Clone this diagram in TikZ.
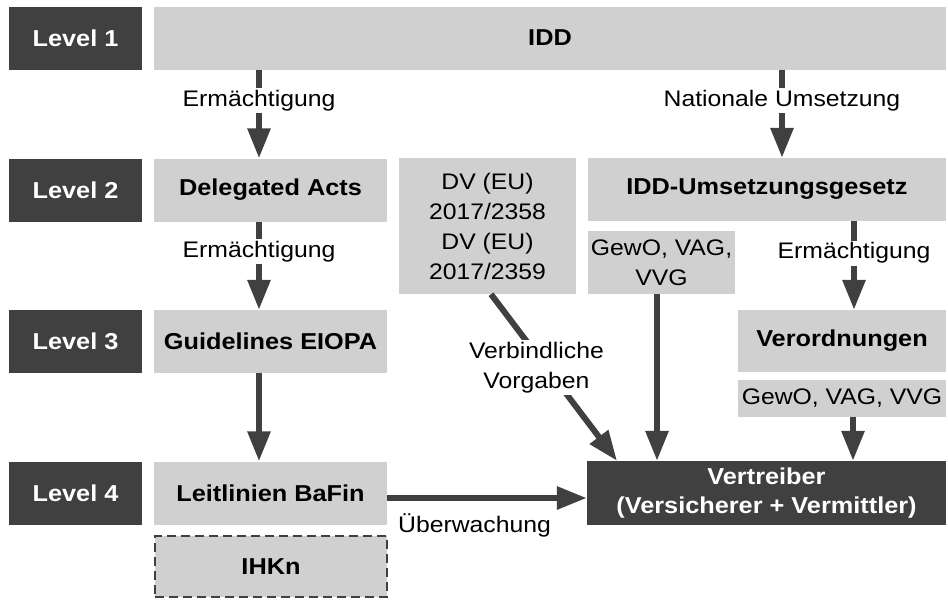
\documentclass[tikz,border=0pt]{standalone}
\usepackage{fontspec}
\setmainfont[FakeStretch=1.1]{Liberation Sans}
\usetikzlibrary{arrows.meta}
\definecolor{dk}{HTML}{404040}
\definecolor{lt}{HTML}{D0D0D0}
\begin{document}
\begin{tikzpicture}[x=1pt,y=-1pt,
  font=\fontsize{22.5}{30}\selectfont,
  lvl/.style={fill=dk, text=white, font=\fontsize{23}{29}\selectfont\bfseries, minimum width=133pt, minimum height=63pt, inner sep=0pt, align=center},
  box/.style={fill=lt, minimum height=63pt, inner sep=0pt, align=center},
  bbox/.style={box, font=\fontsize{23}{30}\selectfont\bfseries},
  arr/.style={draw=dk, line width=6pt, -{Triangle[width=22pt,length=30pt]}},
  lab/.style={fill=white, inner sep=2pt, align=center}]
\useasboundingbox (0,0) rectangle (948,600);

\node[lvl] (L1) at (75.5,38) {Level 1};
\node[lvl] (L2) at (75.5,190) {Level 2};
\node[lvl] (L3) at (75.5,341.5) {Level 3};
\node[lvl] (L4) at (75.5,493) {Level 4};

\node[bbox, minimum width=792pt] (IDD) at (550,38) {IDD};
\node[bbox, minimum width=233pt] (DEL) at (270.5,190) {Delegated Acts};
\node[bbox, minimum width=233pt] (GUI) at (270.5,341.5) {Guidelines EIOPA};
\node[bbox, minimum width=233pt] (LEI) at (270.5,493) {Leitlinien BaFin};
\node[bbox, minimum width=232pt, minimum height=61pt, draw=dk, line width=2pt, dash pattern=on 9pt off 5pt] (IHK) at (271,566.5) {IHKn};
\node[box, minimum width=177pt, minimum height=136pt] (DV) at (487.5,226) {DV (EU)\\2017/2358\\DV (EU)\\2017/2359};
\node[bbox, minimum width=358pt] (IDDU) at (767,189.5) {IDD-Umsetzungsgesetz};
\node[box, minimum width=147pt] (GW1) at (661.5,262.5) {GewO, VAG,\\VVG};
\node[bbox, minimum width=208pt, minimum height=62pt] (VO) at (842,341) {Verordnungen};
\node[box, minimum width=208pt, minimum height=37pt] (GW2) at (842,398.5) {GewO, VAG, VVG};
\node[lvl, minimum width=359pt, minimum height=64pt] (VT) at (766.5,493) {Vertreiber\\(Versicherer + Vermittler)};

\coordinate (xa) at (259,0);
\coordinate (xb) at (782,0);
\coordinate (xc) at (854,0);
\coordinate (xd) at (491,0);
\coordinate (xe) at (617,0);
\coordinate (xf) at (657,0);
\coordinate (xg) at (853,0);
\coordinate (ya) at (0,498);

\draw[arr] (IDD.south -| xa) -- node[lab,pos=0.35]{Ermächtigung} (DEL.north -| xa);
\draw[arr] (DEL.south -| xa) -- node[lab,pos=0.34]{Ermächtigung} (GUI.north -| xa);
\draw[arr] (GUI.south -| xa) -- (LEI.north -| xa);
\draw[arr] (IDD.south -| xb) -- node[lab,pos=0.35]{Nationale Umsetzung} (IDDU.north -| xb);
\draw[arr] (IDDU.south -| xc) -- node[lab,pos=0.36]{Ermächtigung} (VO.north -| xc);
\draw[arr] (DV.south -| xd) -- node[lab,pos=0.44,xshift=-10pt]{Verbindliche\\Vorgaben} (VT.north -| xe);
\draw[arr] (GW1.south -| xf) -- (VT.north -| xf);
\draw[arr] (GW2.south -| xg) -- (VT.north -| xg);
\draw[arr] (LEI.east |- ya) -- (VT.west |- ya);
\node[anchor=base west, inner sep=0pt] (UB) at (398,532) {Überwachung};
\end{tikzpicture}
\end{document}
